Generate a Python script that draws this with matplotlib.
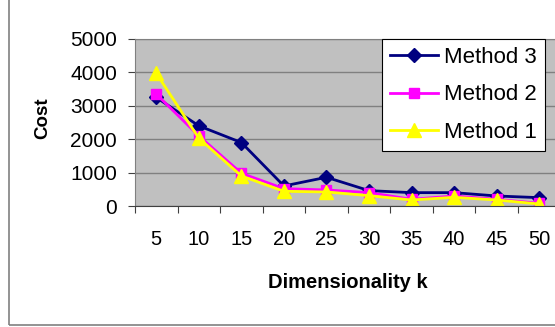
import matplotlib
matplotlib.use("Agg")
import matplotlib.pyplot as plt
from matplotlib.patches import Rectangle

# dimensionality k on the x axis
k_labels = ["5", "10", "15", "20", "25", "30", "35", "40", "45", "50"]

# cost of each method
method3 = [3250, 2400, 1900, 600, 860, 460, 400, 400, 300, 250]
method2 = [3350, 2100, 980, 520, 480, 400, 200, 300, 200, 80]
method1 = [3970, 2030, 900, 440, 420, 310, 180, 260, 180, 60]

W, H = 555, 327
fig = plt.figure(figsize=(W / 100, H / 100), dpi=100)
plt.rcParams['font.family'] = ['Liberation Sans', 'DejaVu Sans']

# outer chart border (left and bottom visible)
fig.patches.append(Rectangle((9 / W, 1 - 325 / H), 2, 2, transform=fig.transFigure,
                             fill=False, edgecolor='#808080', linewidth=1.2))

ax = fig.add_axes([135 / W, 1 - 206 / H, (560.5 - 135) / W, (206 - 39) / H])
ax.set_facecolor('#C0C0C0')

x = list(range(len(k_labels)))
ax.plot(x, method3, color='#000080', marker='D', markersize=7.5, linewidth=2, label='Method 3')
ax.plot(x, method2, color='#FF00FF', marker='s', markersize=7.5, linewidth=2, label='Method 2')
ax.plot(x, method1, color='#FFFF00', marker='^', markersize=9.5, linewidth=2, label='Method 1')

ax.set_xlim(-0.5, 9.5)
ax.set_ylim(0, 5000)
ax.set_yticks([0, 1000, 2000, 3000, 4000, 5000])
ax.set_xticks([i - 0.5 for i in range(11)], minor=False)
ax.set_xticklabels([])
ax.set_xticks(x, minor=True)
ax.set_xticklabels(k_labels, minor=True)
ax.tick_params(axis='x', which='major', length=5, direction='out', color='#404040')
ax.tick_params(axis='x', which='minor', length=0, labelsize=14.5, pad=17.5)
ax.tick_params(axis='y', length=5, direction='out', color='#404040', labelsize=15, pad=8)

ax.grid(axis='y', color='#808080', linewidth=1)
ax.set_axisbelow(True)
for side in ['top', 'left', 'right']:
    ax.spines[side].set_color('#808080')
ax.spines['bottom'].set_color('#404040')

fig.text(348 / W, 1 - 283 / H, 'Dimensionality k', ha='center', va='center',
         fontsize=14.5, fontweight='bold')
fig.text(43 / W, 1 - 118 / H, 'Cost', ha='center', va='center', rotation=90,
         fontsize=13.5, fontweight='bold')

leg = ax.legend(loc='upper left', bbox_to_anchor=(382 / W, 1 - 39 / H),
                bbox_transform=fig.transFigure, borderaxespad=0, fontsize=16,
                fancybox=False, framealpha=1, edgecolor='black', handlelength=2.15,
                handletextpad=0.3, labelspacing=0.75, borderpad=0.35)
leg.get_frame().set_linewidth(0.8)

fig.savefig('out.png', dpi=100)
